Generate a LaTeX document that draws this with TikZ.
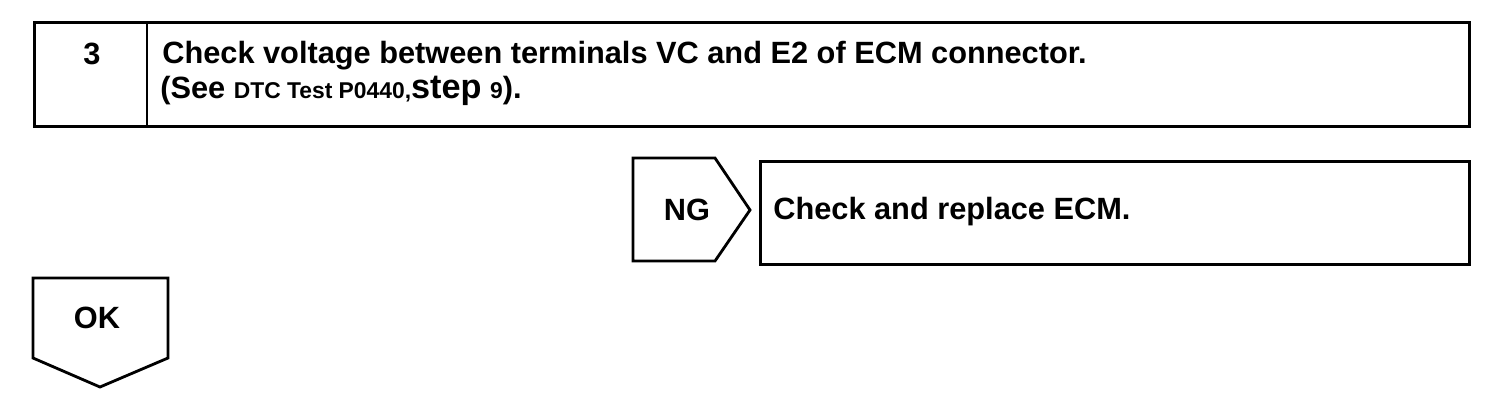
\documentclass[tikz,border=0pt]{standalone}
\usepackage{fontspec}
\setmainfont{Liberation Sans}
\usetikzlibrary{positioning}
\def\px{0.02cm}
\tikzset{
  frame/.style={draw, line width=1.6pt, inner sep=0pt, anchor=north west},
  edge/.style={line width=1.6pt, line join=miter},
  lbl/.style={font=\bfseries\fontsize{17.5}{20}\selectfont, inner sep=0pt},
}
\begin{document}
\begin{tikzpicture}[x=\px, y=-\px]
  \useasboundingbox (0,0) rectangle (1504,400);
  % step header
  \node[frame, minimum width=1435*\px, minimum height=104*\px] (step) at (33,21) {};
  \draw[edge] (147,21) -- (147,125);
  \node[lbl] (num) at (92,54) {3};
  \node[lbl, anchor=base west] (title) at (162,63)
    {Check voltage between terminals VC and E2 of ECM connector.};
  \node[lbl, anchor=base west] (see) at (160,98)
    {(See {\fontsize{13}{15}\selectfont DTC Test P0440,}{\fontsize{19.5}{20}\selectfont step}
     {\fontsize{13}{15}\selectfont 9}).};
  % NG branch
  \draw[edge] (633,158) -- (715,158) -- (750,210) -- (715,261) -- (633,261) -- cycle;
  \node[lbl] (ng) at (687,210) {NG};
  \node[frame, minimum width=709*\px, minimum height=103*\px] (fix) at (759,160) {};
  \node[lbl, anchor=base west] (fixtext) at (773,219) {Check and replace ECM.};
  % OK branch
  \draw[edge] (33,278) -- (168,278) -- (168,358) -- (100,387) -- (33,358) -- cycle;
  \node[lbl] (ok) at (97,318) {OK};
\end{tikzpicture}
\end{document}
